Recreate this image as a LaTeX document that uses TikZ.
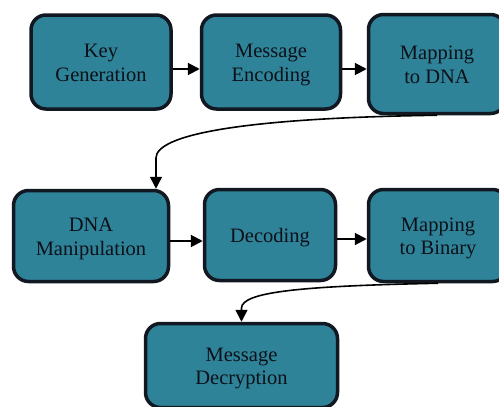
\documentclass[tikz,border=0pt]{standalone}
\usepackage{fontspec}
\setmainfont{Liberation Serif}
\usetikzlibrary{arrows.meta}

\definecolor{boxfill}{RGB}{47,131,153}
\definecolor{boxline}{RGB}{18,24,34}
\definecolor{boxtext}{RGB}{12,16,24}

\newcommand{\boxlabel}[1]{\raisebox{-3pt}[\height][\depth]{\begin{tabular}{@{}c@{}}#1\end{tabular}}}

\begin{document}
\begin{tikzpicture}[x=1pt, y=-1pt]
    \useasboundingbox (0,0) rectangle (499,407);
    \tikzset{BoxStyle/.style={draw=boxline, fill=boxfill, line width=3.5pt,
        rounded corners=15pt, align=center, text=boxtext, inner sep=0pt,
        font=\fontsize{20.5}{23.5}\selectfont}}
    \node[BoxStyle, minimum width=140pt, minimum height=94pt] (KG) at (101,62) {\boxlabel{Key\\Generation}};
    \node[BoxStyle, minimum width=139pt, minimum height=94pt] (ME) at (271,62) {\boxlabel{Message\\Encoding}};
    \node[BoxStyle, minimum width=137pt, minimum height=99pt] (MD) at (437,64) {\boxlabel{Mapping\\to DNA}};

    \node[BoxStyle, minimum width=155pt, minimum height=91pt] (DM) at (91,236) {\boxlabel{DNA\\Manipulation}};
    \node[BoxStyle, minimum width=131pt, minimum height=91pt] (DE) at (270,235) {\boxlabel{Decoding}};
    \node[BoxStyle, minimum width=139pt, minimum height=92pt] (MB) at (438,235.5) {\boxlabel{Mapping\\to Binary}};

    \node[BoxStyle, minimum width=192pt, minimum height=84pt] (MDec) at (241.5,365.5) {\boxlabel{Message\\Decryption}};

    \tikzset{EdgeStyle/.style={-{Triangle[length=12pt, width=12pt]}, line width=2pt, draw=black}}

    \draw[EdgeStyle] ([yshift=-7pt]KG.east) -- ([yshift=-7pt]ME.west);
    \draw[EdgeStyle] ([yshift=-7pt]ME.east) -- ([yshift=-7pt]ME.east -| MD.west);
    \draw[EdgeStyle] ([yshift=-5pt]DM.east) -- ([yshift=-5pt]DM.east -| DE.west);
    \draw[EdgeStyle] ([yshift=-4pt]DE.east) -- ([yshift=-4pt]DE.east -| MB.west);

    \coordinate (bend1) at (156,158);
    \coordinate (bend2) at (241.5,308);
    \draw[EdgeStyle, line width=1.6pt] (MD.south) .. controls (240,118) and (156,135) .. (bend1) -- (bend1 |- DM.north);
    \draw[EdgeStyle, line width=1.6pt] (MB.south) .. controls (300,286) and (242,292) .. (bend2) -- (MDec.north);
\end{tikzpicture}
\end{document}
